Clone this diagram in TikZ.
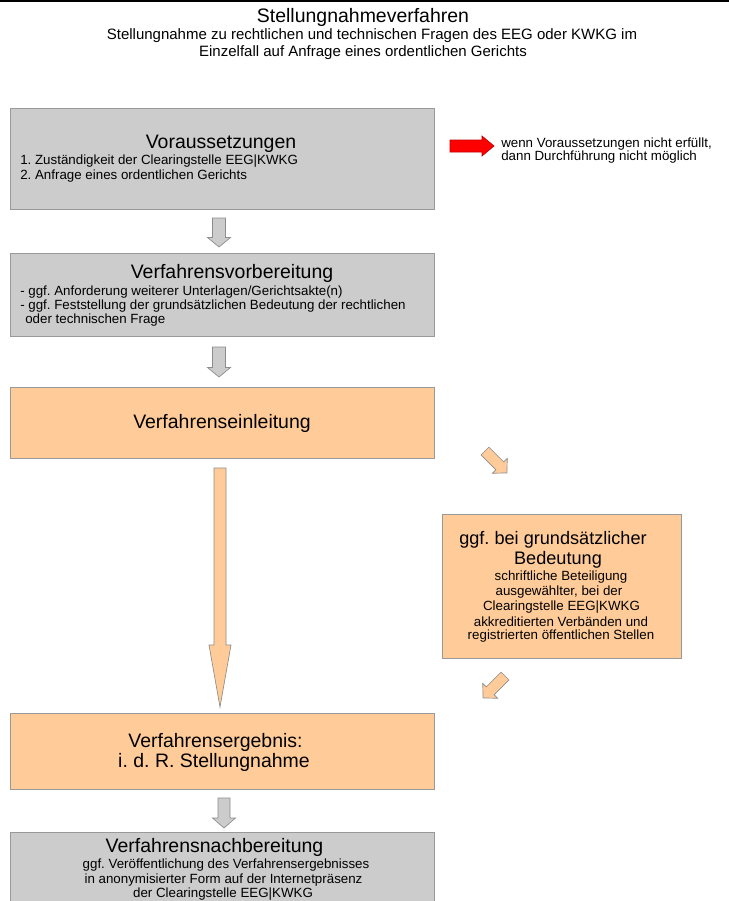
\documentclass[tikz,border=0pt]{standalone}
\usepackage{fontspec}
\setmainfont{Liberation Sans}
\frenchspacing
\definecolor{boxgray}{HTML}{CCCCCC}
\definecolor{edgegray}{HTML}{999999}
\definecolor{boxorange}{HTML}{FFCC99}
\definecolor{arrowedge}{HTML}{8C8C8C}
\definecolor{arrowred}{HTML}{FF0000}
\newcommand{\blkarrow}[7]{%
  \begin{scope}[shift={(#2)},rotate=#3]
    \draw[#1] (0,-#5) -- ({#4-#7},-#5) -- ({#4-#7},-#6) -- (#4,0) -- ({#4-#7},#6) -- ({#4-#7},#5) -- (0,#5) -- cycle;
  \end{scope}}
\begin{document}
\begin{tikzpicture}[x=0.75pt,y=-0.75pt,
  txt/.style={inner sep=0pt},
  ttl/.style={txt,font=\fontsize{14.6}{16}\selectfont},
  sub/.style={txt,font=\fontsize{11.25}{13}\selectfont},
  body/.style={txt,font=\fontsize{10}{11.2}\selectfont},
  frame/.style={draw=edgegray,line width=0.6pt,inner sep=0pt,minimum width=318pt},
  graybox/.style={frame,fill=boxgray},
  orangebox/.style={frame,fill=boxorange},
  grayarrow/.style={fill=boxgray,draw=arrowedge,line width=0.5pt,line join=miter},
  orangearrow/.style={fill=boxorange,draw=arrowedge,line width=0.5pt,line join=miter},
  redarrow/.style={fill=arrowred,draw=red!75!black,line width=0.5pt,line join=miter}]
\clip (0,0) rectangle (729,901);
\fill[white] (0,0) rectangle (729,901);
\fill[black] (0,0) rectangle (729,2.3);

% heading
\node[txt,font=\fontsize{14.6}{16}\selectfont] (title) at (363,17) {Stellungnahmeverfahren};
\node[sub] (subA) at (372,36) {Stellungnahme zu rechtlichen und technischen Fragen des EEG oder KWKG im};
\node[sub] (subB) at (363,53) {Einzelfall auf Anfrage eines ordentlichen Gerichts};

% boxes
\node[graybox,minimum height=75.75pt] (b1) at (222,158.5) {};
\node[graybox,minimum height=62.25pt] (b2) at (222,294.5) {};
\node[orangebox,minimum height=53.25pt] (b3) at (222,422.5) {};
\node[orangebox,minimum width=179.25pt,minimum height=108pt] (b4) at (561.5,586) {};
\node[orangebox,minimum height=57pt] (b5) at (222,751) {};
\node[graybox,minimum height=66pt] (b6) at (222,876) {};

% box 1
\node[ttl] (t1) at (221,144) {Voraussetzungen};
\node[body,anchor=west] (l1a) at (20,161) {1. Zuständigkeit der Clearingstelle EEG|KWKG};
\node[body,anchor=west] (l1b) at (20,176.5) {2. Anfrage eines ordentlichen Gerichts};

% red arrow note
\node[body,anchor=west] (n1) at (501,144) {wenn Voraussetzungen nicht erfüllt,};
\node[body,anchor=west] (n2) at (501,157.5) {dann Durchführung nicht möglich};

% box 2
\node[ttl] (t2) at (232,273) {Verfahrensvorbereitung};
\node[body,anchor=west] (l2a) at (20,292.5) {- ggf. Anforderung weiterer Unterlagen/Gerichtsakte(n)};
\node[body,anchor=west] (l2b) at (20,306) {- ggf. Feststellung der grundsätzlichen Bedeutung der rechtlichen};
\node[body,anchor=west] (l2c) at (25,320) {oder technischen Frage};

% box 3
\node[ttl] (t3) at (222,423) {Verfahrenseinleitung};

% box 4
\node[txt,font=\fontsize{13.6}{15}\selectfont] (t4a) at (553,540) {ggf. bei grundsätzlicher};
\node[txt,font=\fontsize{13.6}{15}\selectfont] (t4b) at (558,560) {Bedeutung};
\node[body] (l4a) at (561,577) {schriftliche Beteiligung};
\node[body] (l4b) at (559,592) {ausgewählter, bei der};
\node[body] (l4c) at (561.5,607) {Clearingstelle EEG|KWKG};
\node[body] (l4d) at (561,622) {akkreditierten Verbänden und};
\node[body] (l4e) at (561,636) {registrierten öffentlichen Stellen};

% box 5
\node[ttl] (t5a) at (215.5,742) {Verfahrensergebnis:};
\node[ttl] (t5b) at (214,762) {i. d. R. Stellungnahme};

% box 6
\node[ttl] (t6) at (214.5,847) {Verfahrensnachbereitung};
\node[body] (l6a) at (226,865) {ggf. Veröffentlichung des Verfahrensergebnisses};
\node[body] (l6b) at (223.5,880) {in anonymisierter Form auf der Internetpräsenz};
\node[body] (l6c) at (223,894) {der Clearingstelle EEG|KWKG};

% block arrows
\blkarrow{redarrow}{450,146}{0}{44}{6}{10}{12}
\blkarrow{grayarrow}{219,218}{-90}{29}{6.5}{11.5}{9.5}
\blkarrow{grayarrow}{219,347}{-90}{30}{6.5}{11.5}{9.5}
\blkarrow{orangearrow}{220,468}{-90}{239}{6}{11}{62}
\blkarrow{orangearrow}{485,451}{-45}{31}{5.5}{10.5}{10}
\blkarrow{orangearrow}{505,676}{-135}{31}{5.5}{10.5}{10}
\blkarrow{grayarrow}{224,798}{-90}{30}{6}{11.5}{10}
\end{tikzpicture}
\end{document}
